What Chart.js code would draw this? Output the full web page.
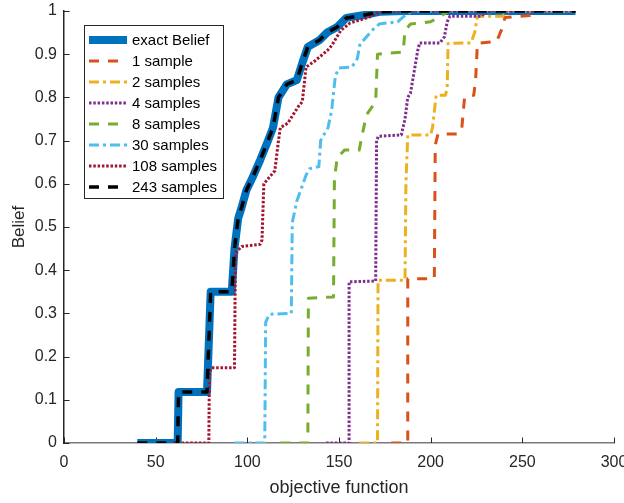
<!DOCTYPE html>
<html>
<head>
<meta charset="utf-8">
<title>Belief vs objective function</title>
<script src="https://cdn.jsdelivr.net/npm/chart.js@4.4.0/dist/chart.umd.min.js"></script>
<style>
    html, body { margin: 0; padding: 0; background: #fff; }
    canvas { display: block; }
</style>
</head>
<body>
<canvas id="beliefChart" width="624" height="503"></canvas>
<script>
// belief curves (x = objective function, y = belief)
const exactX = [40, 62, 62.5, 78, 80, 91.5, 93, 95, 97, 99.5, 103, 107, 111, 114, 117, 121.5, 127, 130, 133, 139.5, 143.5, 149, 154, 163, 172, 185, 279];
const exactY = [0, 0, 0.118, 0.118, 0.35, 0.35, 0.45, 0.52, 0.547, 0.585, 0.616, 0.655, 0.697, 0.73, 0.80, 0.83, 0.84, 0.88, 0.917, 0.933, 0.95, 0.963, 0.984, 0.99, 0.998, 1, 1];

const s1X = [178.5, 187.5, 187.5, 202, 202.5, 204, 215, 217, 218.5, 223.5, 224.5, 225.5, 236, 239, 240.5, 255, 258, 279];
const s1Y = [0, 0, 0.38, 0.38, 0.69, 0.715, 0.715, 0.73, 0.80, 0.805, 0.84, 0.925, 0.93, 0.96, 0.985, 0.99, 1, 1];

const s2X = [161, 171, 171.3, 186, 186.5, 187.5, 200, 201, 203, 208, 209, 209.5, 222, 224, 225.5, 239, 243, 279];
const s2Y = [0, 0, 0.377, 0.377, 0.6, 0.713, 0.713, 0.73, 0.805, 0.805, 0.82, 0.925, 0.926, 0.95, 0.988, 0.988, 1, 1];

const s4X = [143, 155.5, 155.5, 170, 170.5, 171.5, 184, 186, 187.5, 189, 191, 193, 194, 205, 207.5, 209, 210.5, 228, 230, 279];
const s4Y = [0, 0, 0.373, 0.375, 0.70, 0.71, 0.713, 0.75, 0.80, 0.81, 0.86, 0.91, 0.926, 0.926, 0.94, 0.975, 0.988, 0.988, 1, 1];

const s8X = [118, 133, 133.3, 147, 147.5, 149, 153, 161, 163, 165, 170, 171, 185, 186, 189, 200, 206, 210, 279];
const s8Y = [0, 0, 0.335, 0.338, 0.61, 0.66, 0.678, 0.678, 0.72, 0.76, 0.79, 0.90, 0.905, 0.955, 0.97, 0.975, 0.99, 1, 1];

const s30X = [93, 109.5, 110, 112, 124, 124.5, 127, 132, 134, 139, 140, 144, 146, 148, 150, 157, 160, 161.5, 164, 168, 172, 182, 186, 190, 279];
const s30Y = [0, 0, 0.28, 0.298, 0.30, 0.51, 0.56, 0.62, 0.635, 0.64, 0.70, 0.73, 0.77, 0.85, 0.868, 0.87, 0.89, 0.925, 0.935, 0.955, 0.97, 0.975, 0.99, 1, 1];

const s108X = [59.5, 79, 79.3, 80.5, 93, 93.5, 97, 107, 108, 109, 112, 115, 117, 118, 122, 128, 130, 132, 137, 144, 146, 151, 156, 166, 172, 185, 279];
const s108Y = [0, 0, 0.165, 0.174, 0.174, 0.44, 0.455, 0.46, 0.47, 0.60, 0.615, 0.63, 0.70, 0.73, 0.74, 0.78, 0.79, 0.87, 0.885, 0.91, 0.92, 0.955, 0.972, 0.985, 0.998, 1, 1];

const s243X = [40, 62, 62.5, 78, 80, 91.5, 93, 95, 97, 99.5, 103, 107, 111, 114, 117, 121.5, 127, 130, 133, 139.5, 143.5, 149, 154, 163, 172, 185, 279];
const s243Y = [0, 0, 0.118, 0.118, 0.35, 0.35, 0.45, 0.52, 0.547, 0.585, 0.616, 0.655, 0.697, 0.73, 0.80, 0.83, 0.84, 0.88, 0.917, 0.933, 0.95, 0.963, 0.984, 0.99, 0.998, 1, 1];

const seriesLabels = ['exact Belief', '1 sample', '2 samples', '4 samples', '8 samples', '30 samples', '108 samples', '243 samples'];
const xTicks = [0, 50, 100, 150, 200, 250, 300];
const yTicks = [0, 0.1, 0.2, 0.3, 0.4, 0.5, 0.6, 0.7, 0.8, 0.9, 1];

const FONT = '"Liberation Sans", Arial, Helvetica, sans-serif';
const AXIS_COLOR = '#262626';

const DASHED = [10, 9];
const DASH_DOT = [10, 4, 3, 4];
const DOTTED = [2.5, 1.8];

function toPoints(xs, ys) {
    return xs.map((x, i) => ({ x: x, y: ys[i] }));
}

function makeSeries(i, xs, ys, color, width, dash, total) {
    return {
        label: seriesLabels[i],
        data: toPoints(xs, ys),
        showLine: true,
        borderColor: color,
        backgroundColor: color,
        borderWidth: width,
        borderDash: dash,
        borderCapStyle: 'butt',
        borderJoinStyle: 'round',
        pointRadius: 0,
        tension: 0,
        fill: false,
        // matlab draws later lines on top
        order: total - i
    };
}

// ticks pointing inwards, like matlab
const innerTicks = {
    id: 'innerTicks',
    beforeDatasetsDraw(chart) {
        const { ctx, chartArea, scales } = chart;
        const len = 5.5;
        ctx.save();
        ctx.strokeStyle = AXIS_COLOR;
        ctx.lineWidth = 1;
        ctx.beginPath();
        xTicks.forEach(v => {
            const px = Math.round(scales.x.getPixelForValue(v)) + 0.5;
            ctx.moveTo(px, chartArea.bottom);
            ctx.lineTo(px, chartArea.bottom - len);
        });
        yTicks.forEach(v => {
            const py = Math.round(scales.y.getPixelForValue(v)) + 0.5;
            ctx.moveTo(chartArea.left, py);
            ctx.lineTo(chartArea.left + len, py);
        });
        ctx.stroke();
        ctx.restore();
    }
};

// legend box in the upper left corner of the axes
const boxLegend = {
    id: 'boxLegend',
    afterDraw(chart) {
        const ctx = chart.ctx;
        const left = 84, top = 25, right = 223, bottom = 198;
        const firstRow = 40, rowStep = 21;
        ctx.save();
        ctx.fillStyle = '#fff';
        ctx.fillRect(left, top, right - left, bottom - top);
        ctx.strokeStyle = AXIS_COLOR;
        ctx.lineWidth = 1;
        ctx.setLineDash([]);
        ctx.strokeRect(left + 0.5, top + 0.5, right - left, bottom - top);

        chart.data.datasets.forEach((ds, i) => {
            const y = firstRow + i * rowStep;
            ctx.beginPath();
            ctx.setLineDash(ds.borderDash || []);
            ctx.lineCap = 'butt';
            ctx.lineWidth = ds.borderWidth;
            ctx.strokeStyle = ds.borderColor;
            ctx.moveTo(89, y);
            ctx.lineTo(127, y);
            ctx.stroke();

            ctx.setLineDash([]);
            ctx.fillStyle = '#000';
            ctx.font = '15px ' + FONT;
            ctx.textBaseline = 'middle';
            ctx.textAlign = 'left';
            ctx.fillText(ds.label, 132, y + 1);
        });
        ctx.restore();
    }
};

const n = seriesLabels.length;
const datasets = [
    makeSeries(0, exactX, exactY, '#0072BD', 8, [], n),
    makeSeries(1, s1X, s1Y, '#D95319', 3, DASHED, n),
    makeSeries(2, s2X, s2Y, '#EDB120', 3, DASH_DOT, n),
    makeSeries(3, s4X, s4Y, '#7E2F8E', 3, DOTTED, n),
    makeSeries(4, s8X, s8Y, '#77AC30', 3, DASHED, n),
    makeSeries(5, s30X, s30Y, '#4DBEEE', 3, DASH_DOT, n),
    makeSeries(6, s108X, s108Y, '#A2142F', 3, DOTTED, n),
    makeSeries(7, s243X, s243Y, '#000000', 3.5, DASHED, n)
];

new Chart(document.getElementById('beliefChart'), {
    type: 'scatter',
    data: { datasets: datasets },
    plugins: [innerTicks, boxLegend],
    options: {
        responsive: false,
        animation: false,
        layout: { padding: { top: 11, right: 10, left: 0, bottom: 0 } },
        plugins: {
            legend: { display: false },
            tooltip: { enabled: false }
        },
        scales: {
            x: {
                type: 'linear',
                min: 0,
                max: 300,
                afterBuildTicks: s => { s.ticks = xTicks.map(v => ({ value: v })); },
                afterFit: s => { s.height = 60; s.paddingLeft = 0; s.paddingRight = 0; },
                ticks: {
                    autoSkip: false,
                    maxRotation: 0,
                    padding: 10,
                    color: AXIS_COLOR,
                    font: { family: FONT, size: 16 }
                },
                grid: { display: false, drawTicks: false },
                border: { display: true, color: '#7a7a7a', width: 1.5 },
                title: {
                    display: true,
                    text: 'objective function',
                    color: AXIS_COLOR,
                    font: { family: FONT, size: 18 },
                    padding: { top: 0, bottom: 4 }
                }
            },
            y: {
                type: 'linear',
                min: 0,
                max: 1,
                afterBuildTicks: s => { s.ticks = yTicks.map(v => ({ value: v })); },
                afterFit: s => { s.width = 64; s.paddingTop = 0; s.paddingBottom = 0; },
                ticks: {
                    autoSkip: false,
                    padding: 7,
                    color: AXIS_COLOR,
                    font: { family: FONT, size: 16 },
                    callback: v => String(Math.round(v * 10) / 10)
                },
                grid: { display: false, drawTicks: false },
                border: { display: true, color: AXIS_COLOR, width: 1.5 },
                title: {
                    display: true,
                    text: 'Belief',
                    color: AXIS_COLOR,
                    font: { family: FONT, size: 17 },
                    padding: { top: 9, bottom: 0 }
                }
            }
        }
    }
});
</script>
</body>
</html>
